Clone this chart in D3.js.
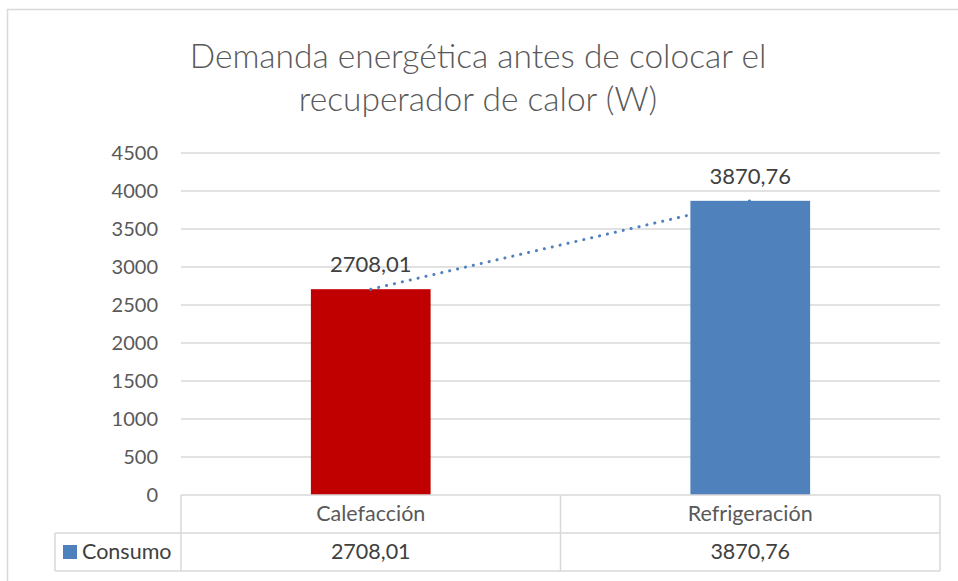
<!DOCTYPE html>
<html>
<head>
<meta charset="utf-8">
<script src="https://cdn.jsdelivr.net/npm/d3@7"></script>
<style>
  html, body { margin: 0; padding: 0; background: #fff; }
  svg { display: block; }
  text { font-family: Lato, "Open Sans", sans-serif; }
</style>
</head>
<body>
<svg id="chart" width="958" height="581"></svg>
<script>
// Chart data
const titleLines = ["Demanda energética antes de colocar el", "recuperador de calor (W)"];
const categories = ["Calefacción", "Refrigeración"];
const seriesName = "Consumo";
const values = [2708.01, 3870.76];
const valueLabels = ["2708,01", "3870,76"];
const barColors = ["#C00000", "#4F81BD"];
const seriesColor = "#4F81BD";
const yTicks = [0, 500, 1000, 1500, 2000, 2500, 3000, 3500, 4000, 4500];

const svg = d3.select("#chart");
const W = 958, H = 581;

// Layout
const plot = { left: 181, right: 940, top: 153, bottom: 495 };
const table = { rowH: 38, keyLeft: 55 };

// Chart frame
svg.append("rect")
  .attr("x", 7.5).attr("y", 9.5)
  .attr("width", W + 10).attr("height", H + 10)
  .attr("fill", "#fff").attr("stroke", "#D9D9D9").attr("stroke-width", 1.5);

// Title
svg.append("g").selectAll("text")
  .data(titleLines).join("text")
  .attr("x", 478)
  .attr("y", (d, i) => 68 + i * 43)
  .attr("text-anchor", "middle")
  .attr("font-size", 33.5)
  .attr("font-weight", 300)
  .attr("fill", "#595959")
  .text(d => d);

// Scales
const x = d3.scaleBand().domain(categories).range([plot.left, plot.right]).padding(0);
const y = d3.scaleLinear().domain([0, 4500]).range([plot.bottom, plot.top]);
const barW = x.bandwidth() / 3.17;

// Gridlines
svg.append("g").selectAll("line")
  .data(yTicks.filter(t => t > 0)).join("line")
  .attr("x1", plot.left).attr("x2", plot.right)
  .attr("y1", d => y(d)).attr("y2", d => y(d))
  .attr("stroke", "#D9D9D9").attr("stroke-width", 1.5);

// Y axis labels
const yAxis = d3.axisLeft(y).tickValues(yTicks).tickSize(0).tickPadding(23)
  .tickFormat(d3.format("d"));
const yg = svg.append("g").attr("transform", `translate(${plot.left},0)`).call(yAxis);
yg.select(".domain").remove();
yg.selectAll("text").attr("font-size", 20).attr("fill", "#595959")
  .attr("font-family", "Lato, sans-serif");

// Bars
svg.append("g").selectAll("rect")
  .data(categories).join("rect")
  .attr("x", d => x(d) + x.bandwidth() / 2 - barW / 2)
  .attr("y", (d, i) => y(values[i]))
  .attr("width", barW)
  .attr("height", (d, i) => y(0) - y(values[i]))
  .attr("fill", (d, i) => barColors[i]);

// Linear trendline (least squares over category index)
const n = values.length;
const xs = d3.range(n);
const mx = d3.mean(xs), my = d3.mean(values);
const slope = d3.sum(xs, (xi, i) => (xi - mx) * (values[i] - my)) / d3.sum(xs, xi => (xi - mx) ** 2);
const intercept = my - slope * mx;
const trend = xs.map(i => [x(categories[i]) + x.bandwidth() / 2, y(intercept + slope * i)]);
svg.append("path")
  .attr("d", d3.line()(trend))
  .attr("fill", "none")
  .attr("stroke", seriesColor)
  .attr("stroke-width", 3)
  .attr("stroke-linecap", "round")
  .attr("stroke-dasharray", "0.1 8");

// Data labels
svg.append("g").selectAll("text")
  .data(categories).join("text")
  .attr("x", d => x(d) + x.bandwidth() / 2)
  .attr("y", (d, i) => y(values[i]) - 17)
  .attr("text-anchor", "middle")
  .attr("font-size", 22)
  .attr("fill", "#404040")
  .text((d, i) => valueLabels[i]);

// Data table
const tg = svg.append("g").attr("stroke", "#D9D9D9").attr("stroke-width", 1.5).attr("fill", "none");
const r0 = plot.bottom, r1 = r0 + table.rowH, r2 = r1 + table.rowH;
tg.append("line").attr("x1", plot.left).attr("x2", plot.right).attr("y1", r0).attr("y2", r0);
tg.append("line").attr("x1", table.keyLeft).attr("x2", plot.right).attr("y1", r1).attr("y2", r1);
tg.append("line").attr("x1", table.keyLeft).attr("x2", plot.right).attr("y1", r2).attr("y2", r2);
tg.append("line").attr("x1", table.keyLeft).attr("x2", table.keyLeft).attr("y1", r1).attr("y2", r2);
tg.selectAll("line.col")
  .data([...categories.map(c => x(c)), plot.right]).join("line").attr("class", "col")
  .attr("x1", d => d).attr("x2", d => d).attr("y1", r0).attr("y2", r2);

// Category names row
svg.append("g").selectAll("text")
  .data(categories).join("text")
  .attr("x", d => x(d) + x.bandwidth() / 2)
  .attr("y", (r0 + r1) / 2 + 7)
  .attr("text-anchor", "middle")
  .attr("font-size", 21.5)
  .attr("fill", "#595959")
  .text(d => d);

// Series row
svg.append("g").selectAll("text")
  .data(categories).join("text")
  .attr("x", d => x(d) + x.bandwidth() / 2)
  .attr("y", (r1 + r2) / 2 + 7)
  .attr("text-anchor", "middle")
  .attr("font-size", 21.5)
  .attr("fill", "#404040")
  .text((d, i) => valueLabels[i]);

// Legend key and series name
svg.append("rect")
  .attr("x", 63).attr("y", (r1 + r2) / 2 - 7)
  .attr("width", 14).attr("height", 14)
  .attr("fill", seriesColor);
svg.append("text")
  .attr("x", 82).attr("y", (r1 + r2) / 2 + 7)
  .attr("font-size", 21.5)
  .attr("fill", "#404040")
  .text(seriesName);
</script>
</body>
</html>
